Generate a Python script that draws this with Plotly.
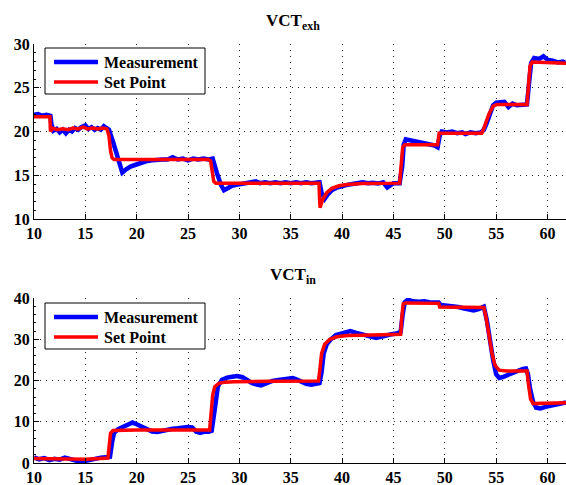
import plotly.graph_objects as go

# ---- VCT exhaust: time [s] and angle values ----
exh_sp_t = [10.0, 11.55, 11.6, 11.8, 12.3, 12.8, 13.3, 13.8, 14.3, 14.8, 15.2, 15.7, 16.2, 16.7,
            17.1, 17.3, 17.45, 17.6, 17.8, 20.0, 23.0, 27.0, 27.2, 27.35, 27.5, 27.7, 31.0, 35.0,
            37.75, 37.8, 37.85, 38.1, 38.5, 39.0, 39.7, 40.5, 42.0, 45.6, 45.75, 45.9, 46.1,
            49.3, 49.45, 53.6, 53.75, 54.0, 54.3, 54.7, 55.1, 58.0, 58.15, 58.3, 58.5, 60.0, 61.8]
exh_sp_v = [21.7, 21.7, 20.0, 20.4, 20.2, 20.3, 20.2, 20.4, 20.3, 20.5, 20.3, 20.4, 20.3, 20.4,
            20.3, 19.5, 17.8, 17.0, 16.8, 16.8, 16.9, 16.8, 16.6, 15.0, 14.3, 14.1, 14.1, 14.1,
            14.1, 12.5, 11.3, 12.2, 13.0, 13.5, 13.8, 13.95, 14.05, 14.1, 16.5, 18.2, 18.5,
            18.5, 19.8, 19.8, 20.2, 21.0, 22.0, 22.9, 23.1, 23.1, 25.5, 27.5, 27.95, 27.9, 27.8]

exh_meas_t = [10.0, 10.4, 10.8, 11.2, 11.6, 11.7, 11.9, 12.2, 12.5, 12.8, 13.1, 13.4, 13.7, 14.0,
              14.3, 14.6, 15.0, 15.3, 15.6, 15.9, 16.2, 16.5, 16.8, 17.1, 17.3, 17.7, 18.1, 18.6,
              19.0, 19.4, 19.9, 20.4, 20.9, 21.5, 22.0, 22.5, 23.0, 23.5, 24.0, 24.5, 25.0, 25.5,
              26.0, 26.5, 27.0, 27.4, 27.8, 28.2, 28.5, 28.9, 29.3, 29.7, 30.2, 30.7, 31.2, 31.6,
              32.0, 32.5, 33.0, 33.5, 34.0, 34.5, 35.0, 35.5, 36.0, 36.5, 37.0, 37.5, 37.8, 38.0,
              38.3, 38.6, 39.0, 39.5, 40.0, 40.5, 41.0, 41.5, 42.0, 42.5, 43.0, 43.5, 44.0, 44.4,
              45.0, 45.6, 45.85, 46.0, 46.2, 46.6, 47.0, 47.5, 48.0, 48.5, 49.0, 49.3, 49.5, 49.7,
              50.2, 50.7, 51.2, 51.7, 52.0, 52.5, 53.0, 53.5, 53.8, 54.1, 54.4, 54.7, 55.0, 55.4,
              55.8, 56.2, 56.6, 57.0, 57.5, 58.0, 58.2, 58.4, 58.7, 59.2, 59.6, 60.0, 60.5, 61.0,
              61.5, 61.8]
exh_meas_v = [21.9, 22.0, 21.8, 21.9, 21.8, 20.8, 20.1, 20.3, 19.9, 20.2, 19.8, 20.2, 20.0, 20.4,
              20.2, 20.5, 20.7, 20.3, 20.5, 20.2, 20.4, 20.2, 20.6, 20.3, 20.2, 18.8, 17.1, 15.3,
              15.7, 16.0, 16.2, 16.4, 16.6, 16.7, 16.8, 16.8, 16.8, 17.05, 16.8, 16.9, 16.7, 16.9,
              16.8, 16.9, 16.8, 16.9, 15.3, 13.9, 13.3, 13.6, 13.8, 13.9, 14.0, 14.1, 14.2, 14.3,
              14.1, 14.2, 14.1, 14.2, 14.1, 14.2, 14.1, 14.2, 14.1, 14.2, 14.1, 14.2, 14.2, 13.0,
              12.3, 12.8, 13.3, 13.6, 13.8, 13.9, 14.0, 14.05, 14.2, 14.1, 14.15, 14.05, 14.2, 13.6,
              14.1, 14.1, 16.0, 18.5, 19.1, 19.0, 18.9, 18.8, 18.6, 18.5, 18.4, 18.2, 19.5, 20.0,
              19.9, 20.0, 19.8, 19.9, 19.7, 19.9, 19.8, 19.9, 20.2, 21.0, 22.0, 23.0, 23.3, 23.4,
              23.4, 22.8, 23.2, 23.0, 23.1, 23.1, 25.5, 27.8, 28.4, 28.3, 28.6, 28.2, 28.1, 27.9,
              28.0, 27.8]

# ---- VCT intake: time [s] and angle values ----
in_sp_t = [10.0, 12.0, 15.0, 17.2, 17.3, 17.45, 17.7, 20.0, 27.1, 27.25, 27.4, 27.6, 28.0, 28.6,
           29.5, 33.0, 37.7, 37.85, 38.0, 38.3, 38.8, 39.5, 40.5, 42.0, 45.7, 45.8, 45.95, 46.2,
           49.4, 49.5, 53.8, 54.0, 54.3, 54.6, 54.9, 55.3, 56.0, 58.0, 58.15, 58.35, 58.6, 60.0,
           61.8]
in_sp_v = [1.1, 1.0, 0.9, 1.2, 4.0, 7.2, 7.9, 8.0, 8.0, 12.0, 16.5, 18.5, 19.3, 19.6,
           19.7, 19.8, 19.9, 23.0, 26.5, 28.8, 30.0, 30.6, 30.9, 31.0, 31.2, 35.0, 38.6, 38.8,
           38.7, 37.8, 37.7, 35.5, 31.0, 26.5, 23.6, 22.5, 22.3, 22.3, 19.0, 15.5, 14.4, 14.4,
           14.6]

in_meas_t = [10.0, 10.5, 11.0, 11.5, 12.0, 12.5, 13.0, 13.5, 14.0, 14.5, 15.0, 15.5, 16.0, 16.5,
             17.0, 17.4, 17.6, 17.8, 18.2, 18.7, 19.2, 19.6, 20.0, 20.5, 21.0, 21.5, 22.0, 22.5,
             23.0, 23.5, 24.0, 24.5, 25.0, 25.4, 25.8, 26.2, 26.6, 27.0, 27.3, 27.6, 27.9, 28.3,
             28.8, 29.3, 29.8, 30.3, 30.7, 31.2, 31.7, 32.1, 32.6, 33.2, 33.8, 34.3, 34.8, 35.2,
             35.6, 36.0, 36.5, 37.0, 37.4, 37.8, 38.0, 38.2, 38.5, 38.9, 39.4, 39.9, 40.4, 40.8,
             41.3, 41.8, 42.3, 42.8, 43.3, 43.8, 44.3, 44.8, 45.3, 45.7, 45.9, 46.1, 46.4, 46.9,
             47.5, 48.0, 48.5, 49.0, 49.4, 49.6, 50.2, 50.8, 51.3, 51.8, 52.3, 52.8, 53.3, 53.8,
             54.1, 54.4, 54.7, 55.0, 55.3, 55.7, 56.2, 56.7, 57.2, 57.6, 57.9, 58.1, 58.3, 58.6,
             58.9, 59.3, 59.8, 60.3, 60.8, 61.3, 61.8]
in_meas_v = [1.4, 0.9, 1.2, 0.7, 1.0, 0.8, 1.3, 0.9, 0.6, 0.3, 0.5, 0.8, 1.1, 1.3,
             1.4, 1.5, 5.0, 7.3, 8.2, 8.7, 9.3, 9.8, 9.4, 8.7, 8.0, 7.6, 7.5, 7.8,
             8.1, 8.3, 8.4, 8.6, 8.7, 8.6, 7.6, 7.3, 7.6, 7.6, 7.8, 13.0, 18.5, 20.2,
             20.7, 20.9, 21.1, 20.8, 20.2, 19.4, 19.0, 18.8, 19.3, 19.9, 20.1, 20.3, 20.3, 20.6,
             20.2, 19.8, 19.2, 19.0, 19.3, 19.4, 22.0, 26.5, 28.8, 30.0, 31.0, 31.4, 31.6, 32.0,
             31.6, 31.3, 31.0, 30.8, 30.3, 30.6, 31.0, 31.2, 31.4, 31.8, 36.0, 39.0, 39.6, 39.2,
             39.1, 39.2, 39.0, 38.9, 38.9, 38.3, 38.2, 37.9, 37.8, 37.5, 37.2, 37.0, 37.3, 37.9,
             34.5, 29.5, 25.0, 21.5, 20.6, 20.9, 21.4, 22.0, 22.4, 22.8, 22.9, 21.5, 18.0, 14.8,
             13.4, 13.2, 13.6, 13.9, 14.0, 14.5, 14.7]

x_ticks = [10, 15, 20, 25, 30, 35, 40, 45, 50, 55, 60]
exh_ticks = [10, 15, 20, 25, 30]
in_ticks = [0, 10, 20, 30, 40]
series_names = ["Measurement", "Set Point"]

SERIF = "Liberation Serif"
BLUE = "#0000ff"
RED = "#ff0000"
W, H = 566, 485
M_L, M_R, M_T, M_B = 34, 0, 44, 22
PLOT_W = W - M_L - M_R
PLOT_H = H - M_T - M_B


def bold(items):
    return ["<b>%s</b>" % v for v in items]


def px_x(px):
    """horizontal page pixel -> paper fraction"""
    return (px - M_L) / PLOT_W


def px_y(py):
    """vertical page pixel -> paper fraction"""
    return (H - M_B - py) / PLOT_H


fig = go.Figure()
panels = [("x", "y", exh_meas_t, exh_meas_v, exh_sp_t, exh_sp_v),
          ("x2", "y2", in_meas_t, in_meas_v, in_sp_t, in_sp_v)]
for xa, ya, mt, mv, st, sv in panels:
    fig.add_trace(go.Scatter(x=mt, y=mv, mode="lines", name=series_names[0],
                             line=dict(color=BLUE, width=4.5), xaxis=xa, yaxis=ya,
                             showlegend=False))
    fig.add_trace(go.Scatter(x=st, y=sv, mode="lines", name=series_names[1],
                             line=dict(color=RED, width=3.5), xaxis=xa, yaxis=ya,
                             showlegend=False))

tickfont = dict(family=SERIF, size=16, color="black")
grid = dict(showgrid=True, gridcolor="#222222", gridwidth=1, griddash="1px,5px",
            showline=True, linecolor="black", linewidth=1, mirror=False,
            ticks="inside", ticklen=5, tickcolor="black", tickfont=tickfont,
            zeroline=False,
            minor=dict(ticks="inside", ticklen=2, tickcolor="black", showgrid=False))

fig.update_layout(
    width=W, height=H,
    margin=dict(l=M_L, r=M_R, t=M_T, b=M_B),
    plot_bgcolor="white", paper_bgcolor="white",
    showlegend=False,
    xaxis=dict(domain=[0, 1], anchor="y", range=[10, 61.8],
               tickvals=x_ticks, ticktext=bold(x_ticks), **grid),
    yaxis=dict(domain=[px_y(219), 1], anchor="x", range=[10, 30],
               tickvals=exh_ticks, ticktext=bold(exh_ticks), **grid),
    xaxis2=dict(domain=[0, 1], anchor="y2", range=[10, 61.8],
                tickvals=x_ticks, ticktext=bold(x_ticks), **grid),
    yaxis2=dict(domain=[0, px_y(298)], anchor="x2", range=[0, 40],
                tickvals=in_ticks, ticktext=bold(in_ticks), **grid),
)

# subplot titles
for label, centre_px in (("<b>VCT<sub>exh</sub></b>", 22), ("<b>VCT<sub>in</sub></b>", 276)):
    fig.add_annotation(text=label, x=0.5, xref="paper", xshift=-7,
                       y=px_y(centre_px), yref="paper", yanchor="middle",
                       showarrow=False, font=dict(family=SERIF, size=17, color="black"))

# boxed legend in the upper-left corner of each panel
for box_top in (48, 303):
    fig.add_shape(type="rect", xref="paper", yref="paper",
                  x0=px_x(45), x1=px_x(205), y0=px_y(box_top), y1=px_y(box_top + 46),
                  line=dict(color="black", width=1), fillcolor="white", layer="above")
    for i, (name, color, width) in enumerate(zip(series_names, (BLUE, RED), (4.5, 3.5))):
        row_y = px_y(box_top + 14 + 20 * i)
        fig.add_shape(type="line", xref="paper", yref="paper",
                      x0=px_x(54), x1=px_x(98), y0=row_y, y1=row_y,
                      line=dict(color=color, width=width), layer="above")
        fig.add_annotation(text="<b>%s</b>" % name, x=px_x(102), xref="paper",
                           xanchor="left", y=row_y, yref="paper", yanchor="middle",
                           showarrow=False,
                           font=dict(family=SERIF, size=16, color="black"))

fig.write_html("out.html")
